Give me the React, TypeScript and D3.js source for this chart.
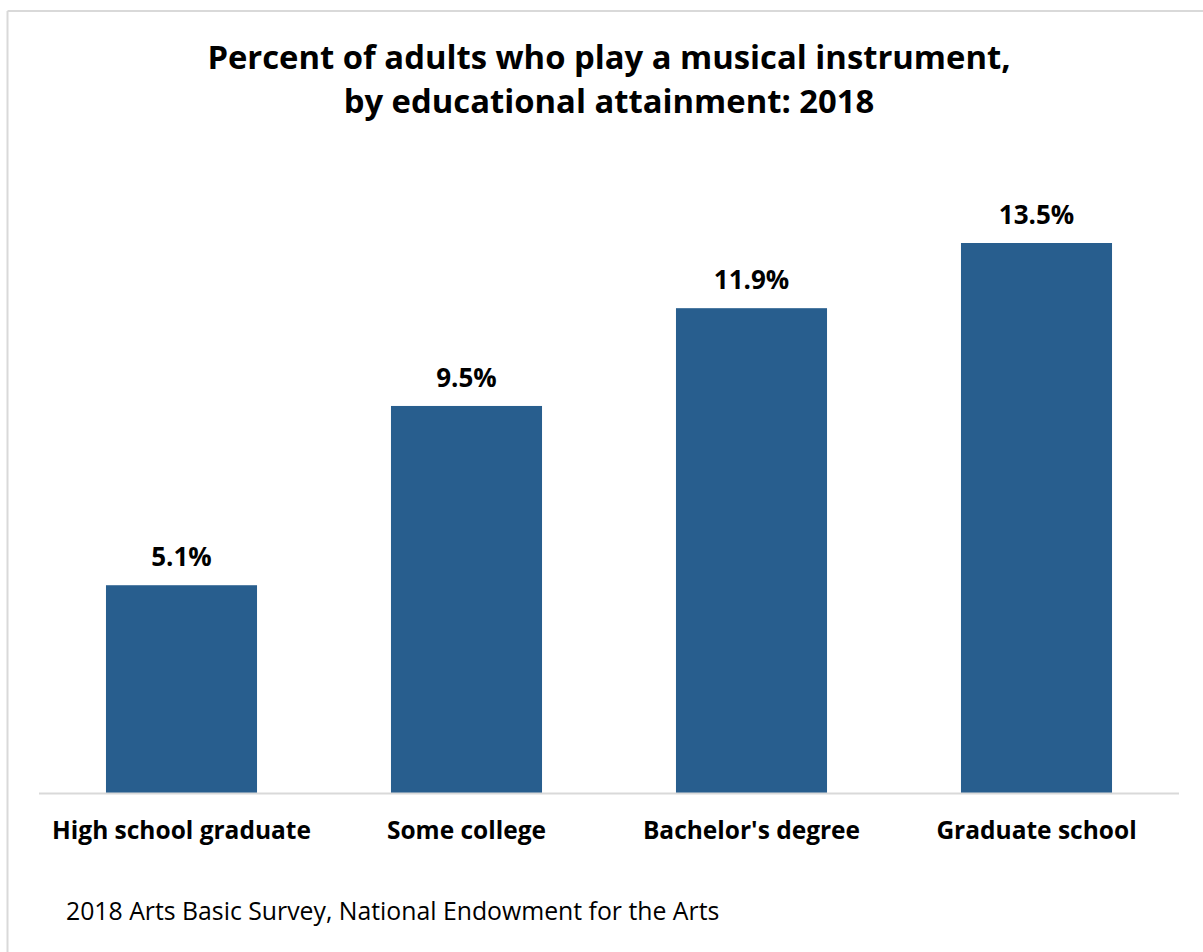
import React from "react";
import * as d3 from "d3";

const categories = ["High school graduate", "Some college", "Bachelor's degree", "Graduate school"];
const values = [5.1, 9.5, 11.9, 13.5];
const titleLines = ["Percent of adults who play a musical instrument,", "by educational attainment: 2018"];
const sourceNote = "2018 Arts Basic Survey, National Endowment for the Arts";

const W = 1203;
const H = 952;
const FONT = "'Open Sans', 'Noto Sans', sans-serif";

export default function App() {
  const x = d3.scaleBand<string>().domain(categories).range([39, 1179]).paddingInner(0.47).paddingOuter(0.235);
  const baseline = 793;
  const y = d3.scaleLinear().domain([0, 13.5]).range([baseline, 243]);
  const fmt = (v: number) => d3.format(".1f")(v) + "%";

  return (
    <svg width={W} height={H} style={{ position: "absolute", left: 0, top: 0, background: "#fff" }}>
      <rect x={0} y={0} width={W} height={H} fill="#fff" />
      <line x1={7.5} y1={11} x2={7.5} y2={H} stroke="#d9d9d9" strokeWidth={2} />
      <line x1={7.5} y1={11} x2={W} y2={11} stroke="#d9d9d9" strokeWidth={2} />
      {titleLines.map((t, i) => (
        <text key={i} x={609} y={69 + i * 44} textAnchor="middle" fontFamily={FONT} fontWeight="bold" fontSize={32.8} fill="#000">
          {t}
        </text>
      ))}
      {categories.map((c, i) => (
        <g key={c}>
          <rect x={x(c)} y={y(values[i])} width={x.bandwidth()} height={baseline - y(values[i])} fill="#285e8e" />
          <text x={(x(c) as number) + x.bandwidth() / 2} y={y(values[i]) - 19} textAnchor="middle" fontFamily={FONT} fontWeight="bold" fontSize={26} fill="#000">
            {fmt(values[i])}
          </text>
          <text x={(x(c) as number) + x.bandwidth() / 2} y={839} textAnchor="middle" fontFamily={FONT} fontWeight="bold" fontSize={24.5} fill="#000">
            {c}
          </text>
        </g>
      ))}
      <line x1={39} y1={baseline + 0.5} x2={1179} y2={baseline + 0.5} stroke="#d9d9d9" strokeWidth={2} />
      <text x={66} y={920} fontFamily={FONT} fontSize={24.8} fill="#000">
        {sourceNote}
      </text>
    </svg>
  );
}
